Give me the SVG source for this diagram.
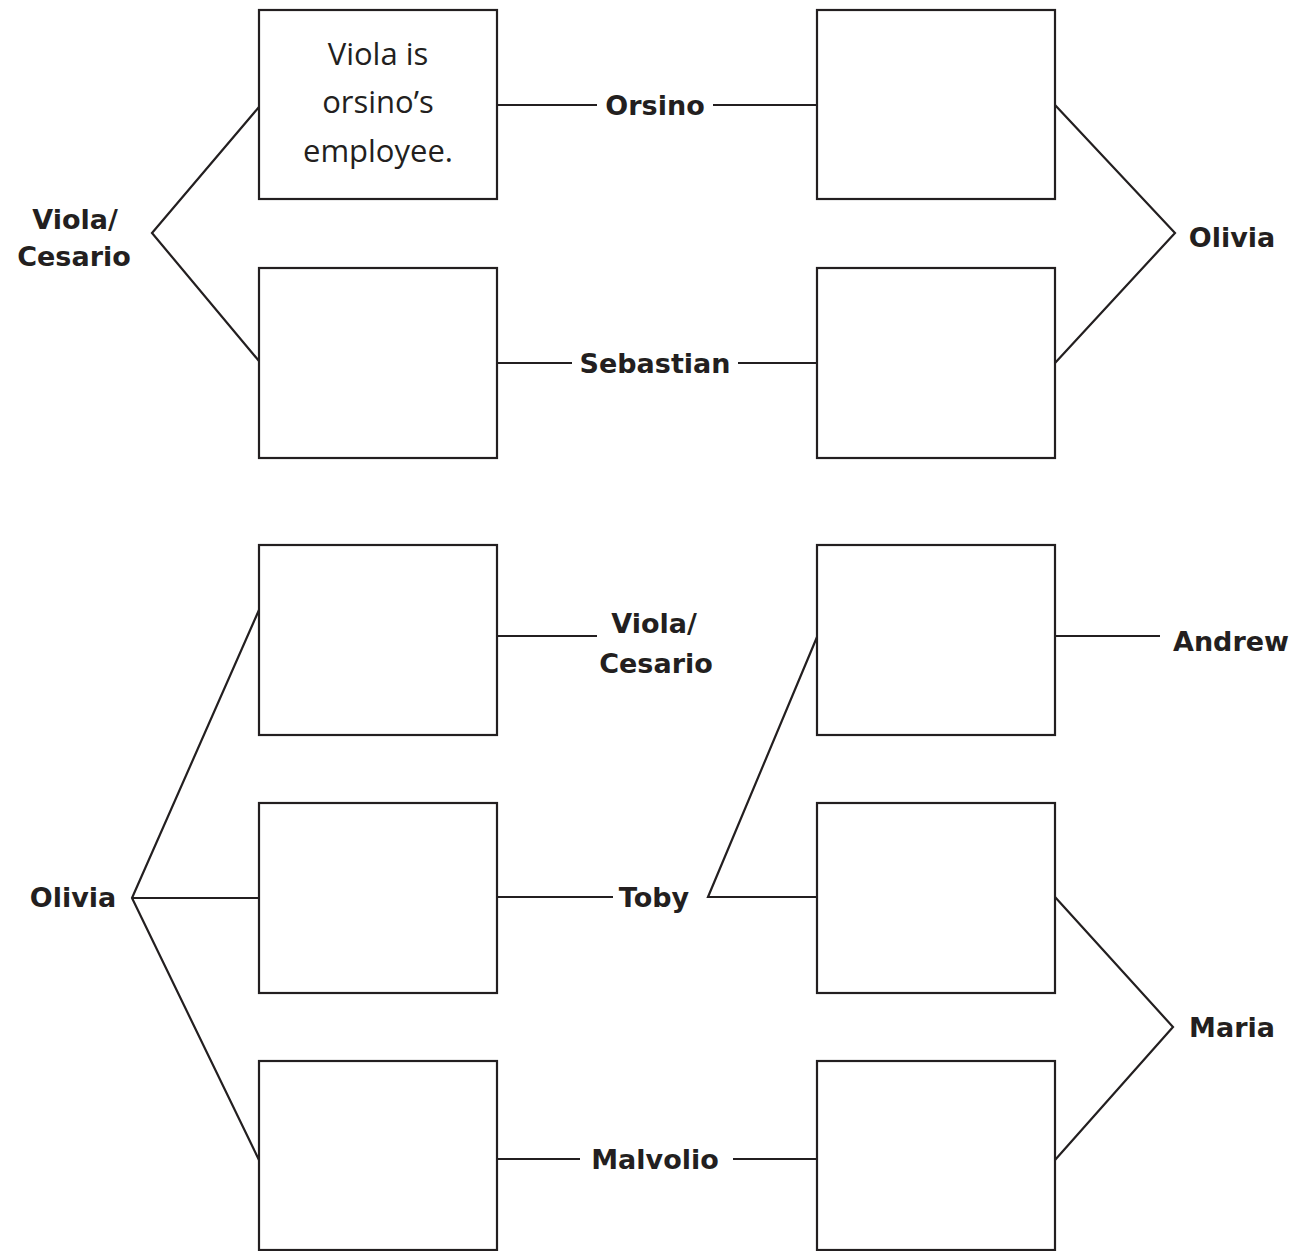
<svg xmlns="http://www.w3.org/2000/svg" width="1310" height="1251" viewBox="0 0 1310 1251">
<style>
.box{fill:#fff;stroke:#231f20;stroke-width:2.2}
.ln{fill:none;stroke:#231f20;stroke-width:2.2}
.lbl{font-family:"DejaVu Sans","Liberation Sans",sans-serif;font-weight:bold;font-size:27px;fill:#231f20;text-anchor:middle}
.hand{font-family:"Open Sans","Liberation Sans",sans-serif;font-weight:400;font-size:31px;fill:#231f20;text-anchor:middle}
</style>
<rect width="1310" height="1251" fill="#fff"/>
<g id="connectors">
<polyline class="ln" points="259,107 152,233 259,361"/>
<line class="ln" x1="497" y1="105" x2="597" y2="105"/>
<line class="ln" x1="713" y1="105" x2="817" y2="105"/>
<polyline class="ln" points="1055,105 1175,233 1055,363"/>
<line class="ln" x1="497" y1="363" x2="572" y2="363"/>
<line class="ln" x1="738" y1="363" x2="817" y2="363"/>
<line class="ln" x1="497" y1="636" x2="597" y2="636"/>
<line class="ln" x1="1055" y1="636" x2="1160" y2="636"/>
<polyline class="ln" points="259,610 132,898 259,1160"/>
<line class="ln" x1="132" y1="898" x2="259" y2="898"/>
<line class="ln" x1="497" y1="897" x2="613" y2="897"/>
<polyline class="ln" points="817,637 708,897 817,897"/>
<polyline class="ln" points="1055,897 1173,1027 1055,1160"/>
<line class="ln" x1="497" y1="1159" x2="580" y2="1159"/>
<line class="ln" x1="733" y1="1159" x2="817" y2="1159"/>
</g>
<g id="box-l1"><rect class="box" x="259" y="10" width="238" height="189"/>
<text class="hand" x="378" y="65">Viola is</text>
<text class="hand" x="378" y="113">orsino’s</text>
<text class="hand" x="378" y="162">employee.</text></g>
<g id="box-r1"><rect class="box" x="817" y="10" width="238" height="189"/></g>
<g id="box-l2"><rect class="box" x="259" y="268" width="238" height="190"/></g>
<g id="box-r2"><rect class="box" x="817" y="268" width="238" height="190"/></g>
<g id="box-l3"><rect class="box" x="259" y="545" width="238" height="190"/></g>
<g id="box-r3"><rect class="box" x="817" y="545" width="238" height="190"/></g>
<g id="box-l4"><rect class="box" x="259" y="803" width="238" height="190"/></g>
<g id="box-r4"><rect class="box" x="817" y="803" width="238" height="190"/></g>
<g id="box-l5"><rect class="box" x="259" y="1061" width="238" height="189"/></g>
<g id="box-r5"><rect class="box" x="817" y="1061" width="238" height="189"/></g>
<g id="label-viola-top"><text class="lbl" x="75" y="229">Viola/</text><text class="lbl" x="74" y="266">Cesario</text></g>
<g id="label-orsino"><text class="lbl" x="655" y="115">Orsino</text></g>
<g id="label-olivia-top"><text class="lbl" x="1232" y="247">Olivia</text></g>
<g id="label-sebastian"><text class="lbl" x="655" y="373">Sebastian</text></g>
<g id="label-viola-bottom"><text class="lbl" x="654" y="633">Viola/</text><text class="lbl" x="656" y="673">Cesario</text></g>
<g id="label-andrew"><text class="lbl" x="1231" y="651">Andrew</text></g>
<g id="label-olivia-bottom"><text class="lbl" x="73" y="907">Olivia</text></g>
<g id="label-toby"><text class="lbl" x="654" y="907">Toby</text></g>
<g id="label-maria"><text class="lbl" x="1232" y="1037">Maria</text></g>
<g id="label-malvolio"><text class="lbl" x="655" y="1169">Malvolio</text></g>
</svg>
